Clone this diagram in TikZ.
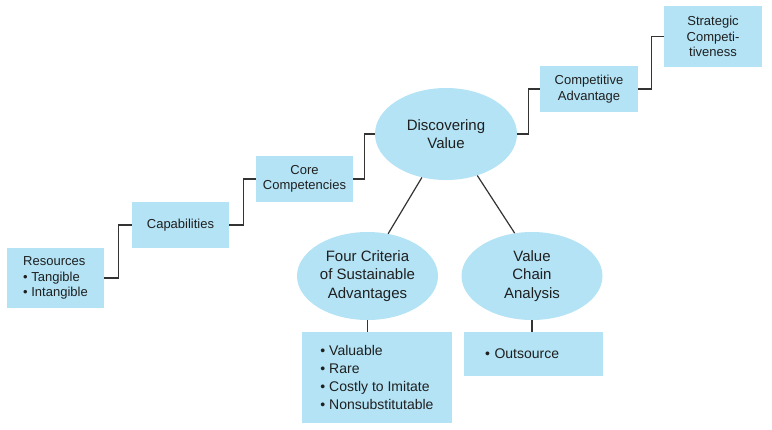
\documentclass[tikz,border=0pt]{standalone}
\usepackage{fontspec}
\setmainfont{Liberation Sans}
\usetikzlibrary{shapes.geometric}
\definecolor{cbox}{HTML}{B3E3F5}
\definecolor{cline}{HTML}{333333}
\tikzset{
  every picture/.style={x=1pt, y=-1pt},
  stepbox/.style={fill=cbox, inner sep=0pt, align=center, text=black!88,
    font=\fontsize{13}{15.5}\selectfont},
  listbox/.style={fill=cbox, inner sep=0pt, align=left, text=black!88,
    font=\fontsize{14}{17.7}\selectfont},
  hub/.style={ellipse, fill=cbox, inner sep=0pt, minimum width=141pt,
    minimum height=88pt, align=center, text=black!88,
    font=\fontsize{15}{18.5}\selectfont},
  link/.style={cline, line width=1.2pt},
}
\begin{document}
\begin{tikzpicture}
  \path[use as bounding box] (0,0) rectangle (772,429);
  % staircase of boxes
  \node[stepbox, align=left, minimum width=97pt, minimum height=60pt] (res) at (55.5,278)
    {Resources\\\textbullet\ Tangible\\\textbullet\ Intangible};
  \node[stepbox, minimum width=97pt, minimum height=46pt] (cap) at (180.5,225) {Capabilities};
  \node[stepbox, minimum width=97pt, minimum height=46pt] (core) at (304.5,179) {Core\\Competencies};
  \node[hub, minimum width=142pt, minimum height=92pt] (disc) at (446,134) {Discovering\\Value};
  \node[stepbox, minimum width=98pt, minimum height=46pt] (comp) at (589,89) {Competitive\\Advantage};
  \node[stepbox, minimum width=98pt, minimum height=61pt] (strat) at (713,36.5) {Strategic\\Competi-\\tiveness};
  % branches below the hub
  \node[hub] (crit) at (367.5,276) {Four Criteria\\of Sustainable\\Advantages};
  \node[hub] (vca) at (532,276) {Value\\Chain\\Analysis};
  \node[listbox, minimum width=150pt, minimum height=91pt] (critlist) at (377,377.5)
    {\textbullet\ Valuable\\\textbullet\ Rare\\\textbullet\ Costly to Imitate\\\textbullet\ Nonsubstitutable};
  \node[listbox, text width=97pt, inner xsep=21pt, minimum height=44pt] (outlist) at (533.5,354)
    {\textbullet\ Outsource};
  % connectors
  \draw[link] (res.east) -- ++(14,0) |- (cap.west);
  \draw[link] (cap.east) -- ++(14,0) |- (core.west);
  \draw[link] (core.east) -- ++(11,0) |- (disc.west);
  \draw[link] (disc.east) -- ++(11,0) |- (comp.west);
  \draw[link] (comp.east) -- ++(13,0) |- (strat.west);
  \draw[link] (disc.241) -- (crit.64);
  \draw[link] (disc.307) -- (vca.112);
  \draw[link] (crit.south) -- (crit.south |- critlist.north);
  \draw[link] (vca.south) -- (vca.south |- outlist.north);
\end{tikzpicture}
\end{document}
